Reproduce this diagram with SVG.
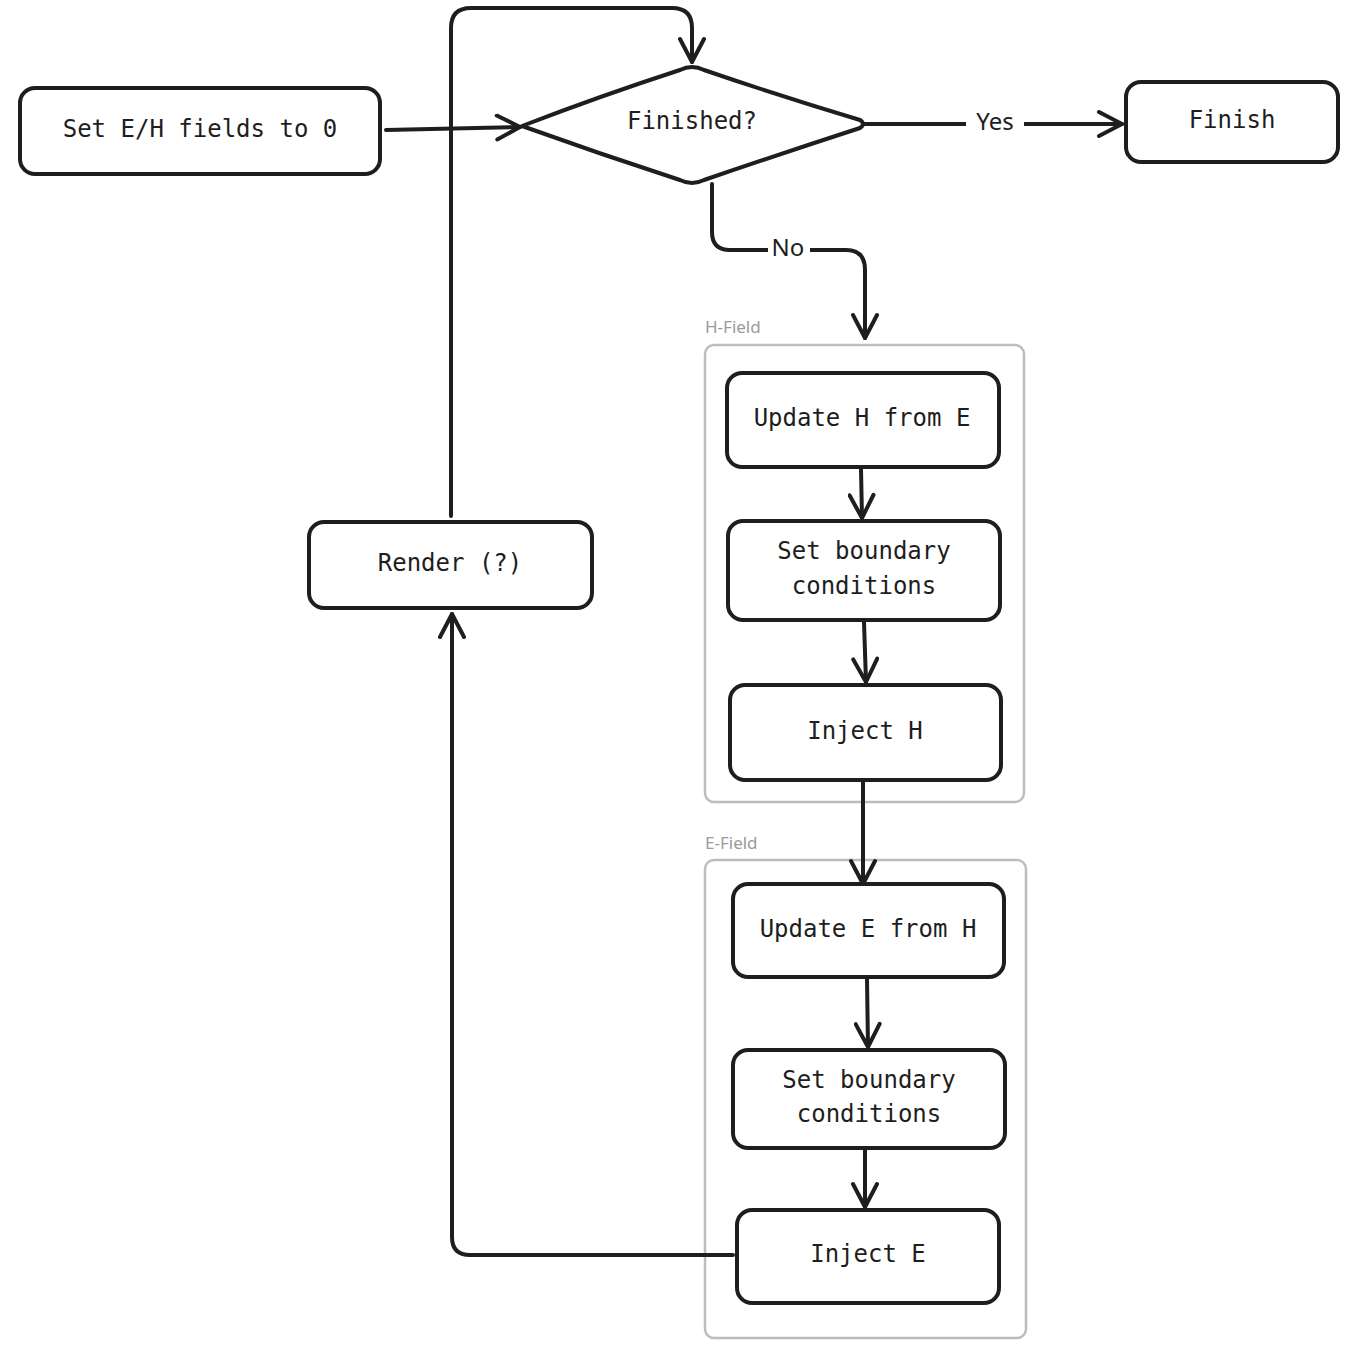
<svg xmlns="http://www.w3.org/2000/svg" width="1349" height="1352" viewBox="0 0 1349 1352">
<style>
.n{fill:#fff;stroke:#1e1e1e;stroke-width:4;stroke-linejoin:round}
.t{font-family:"DejaVu Sans Mono","Liberation Mono",monospace;font-size:24px;fill:#1e1e1e;text-anchor:middle;dominant-baseline:middle}
.c{fill:none;stroke:#1e1e1e;stroke-width:4;stroke-linecap:round;stroke-linejoin:round}
.g{fill:none;stroke:#bdbdbd;stroke-width:2.5}
.gl{font-family:"Noto Sans","Liberation Sans",sans-serif;font-size:17px;fill:#9a9a9a}
.l{font-family:"Noto Sans","Liberation Sans",sans-serif;font-size:24px;fill:#1e1e1e;text-anchor:middle;dominant-baseline:middle}
</style>
<defs>
<marker id="a" viewBox="0 0 28 28" refX="26" refY="14" markerWidth="28" markerHeight="28" markerUnits="userSpaceOnUse" orient="auto">
<path d="M3,2 L26,14 L3,26" fill="none" stroke="#1e1e1e" stroke-width="4" stroke-linecap="round" stroke-linejoin="round"/>
</marker>
</defs>
<rect width="1349" height="1352" fill="#fff"/>
<g id="groups">
<rect class="g" x="705" y="345" width="319" height="457" rx="9"/>
<text class="gl" x="705" y="333">H-Field</text>
<rect class="g" x="705" y="860" width="321" height="478" rx="9"/>
<text class="gl" x="705" y="849">E-Field</text>
</g>
<g id="connectors">
<path class="c" d="M386,130 L520,127" marker-end="url(#a)"/>
<path class="c" d="M864,124 L1122,124" marker-end="url(#a)"/>
<path class="c" d="M712,184 L712,232 Q712,250 730,250 L846,250 Q865,250 865,270 L865,338" marker-end="url(#a)"/>
<path class="c" d="M861,469 L862,518" marker-end="url(#a)"/>
<path class="c" d="M864,622 L866,682" marker-end="url(#a)"/>
<path class="c" d="M863,782 L863,884" marker-end="url(#a)"/>
<path class="c" d="M867,979 L868,1047" marker-end="url(#a)"/>
<path class="c" d="M865,1150 L865,1207" marker-end="url(#a)"/>
<path class="c" d="M733,1255 L470,1255 Q452,1255 452,1237 L452,614" marker-end="url(#a)"/>
<path class="c" d="M451,516 L451,28 Q451,8 471,8 L672,8 Q692,8 692,28 L692,62" marker-end="url(#a)"/>
<rect x="966" y="110" width="58" height="28" fill="#fff"/>
<text class="l" x="995" y="124">Yes</text>
<rect x="768" y="236" width="42" height="28" fill="#fff"/>
<text class="l" x="788" y="250">No</text>
</g>
<g id="start"><rect class="n" x="20" y="88" width="360" height="86" rx="15"/><text class="t" x="200" y="130">Set E/H fields to 0</text></g>
<g id="finished"><path class="n" d="M522,126 Q600,96 680,70 Q692,64 704,70 Q780,96 860,120 Q866,124 860,128 Q780,154 704,180 Q692,186 680,180 Q600,154 522,126 Z"/><text class="t" x="692" y="122">Finished?</text></g>
<g id="finish"><rect class="n" x="1126" y="82" width="212" height="80" rx="15"/><text class="t" x="1232" y="121">Finish</text></g>
<g id="updH"><rect class="n" x="727" y="373" width="272" height="94" rx="15"/><text class="t" x="862" y="419">Update H from E</text></g>
<g id="bcH"><rect class="n" x="728" y="521" width="272" height="99" rx="15"/><text class="t" x="864" y="552">Set boundary</text><text class="t" x="864" y="587">conditions</text></g>
<g id="injH"><rect class="n" x="730" y="685" width="271" height="95" rx="15"/><text class="t" x="865" y="732">Inject H</text></g>
<g id="updE"><rect class="n" x="733" y="884" width="271" height="93" rx="15"/><text class="t" x="868" y="930">Update E from H</text></g>
<g id="bcE"><rect class="n" x="733" y="1050" width="272" height="98" rx="15"/><text class="t" x="869" y="1081">Set boundary</text><text class="t" x="869" y="1115">conditions</text></g>
<g id="injE"><rect class="n" x="737" y="1210" width="262" height="93" rx="15"/><text class="t" x="868" y="1255">Inject E</text></g>
<g id="render"><rect class="n" x="309" y="522" width="283" height="86" rx="15"/><text class="t" x="450" y="564">Render (?)</text></g>
</svg>
